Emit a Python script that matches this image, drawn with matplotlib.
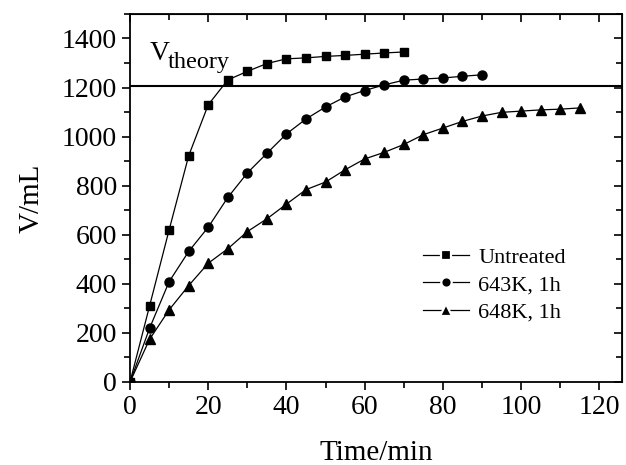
import matplotlib
matplotlib.use("Agg")
import matplotlib.pyplot as plt
from matplotlib.lines import Line2D
from matplotlib.ticker import MultipleLocator, NullFormatter

plt.rcParams['font.family'] = ['Liberation Serif', 'DejaVu Serif']

# Data
t_untreated = [0, 5, 10, 15, 20, 25, 30, 35, 40, 45, 50, 55, 60, 65, 70]
v_untreated = [0, 310, 620, 922, 1130, 1231, 1266, 1298, 1317, 1321, 1327, 1331, 1336, 1341, 1345]

t_643 = [0, 5, 10, 15, 20, 25, 30, 35, 40, 45, 50, 55, 60, 65, 70, 75, 80, 85, 90]
v_643 = [0, 219, 409, 532, 631, 752, 852, 932, 1011, 1072, 1121, 1162, 1188, 1211, 1230, 1235, 1239, 1246, 1252]

t_648 = [0, 5, 10, 15, 20, 25, 30, 35, 40, 45, 50, 55, 60, 65, 70, 75, 80, 85, 90, 95, 100, 105, 110, 115]
v_648 = [0, 174, 294, 393, 484, 543, 613, 665, 725, 784, 815, 865, 909, 936, 968, 1008, 1035, 1062, 1084, 1099, 1104, 1109, 1112, 1117]

labels = ['Untreated', '643K, 1h', '648K, 1h']
v_theory = 1207

fig = plt.figure(figsize=(6.26, 4.65), dpi=100)
ax = fig.add_axes([0.2077, 0.1785, 0.7859, 0.7915])

ax.plot(t_untreated, v_untreated, 'k-s', lw=0.9, ms=6)
ax.plot(t_643, v_643, 'k-o', lw=0.9, ms=6.5)
ax.plot(t_648, v_648, 'k-^', lw=0.9, ms=7.5)
ax.axhline(v_theory, color='black', lw=1.5)
ax.text(5.1, 1313, 'V', fontsize=20, va='baseline')
ax.text(9.6, 1280, 'theory', fontsize=17.5, va='baseline')

ax.set_xlim(0, 125.8)
ax.set_ylim(0, 1500)
ax.xaxis.set_major_locator(MultipleLocator(20))
ax.xaxis.set_minor_locator(MultipleLocator(10))
ax.yaxis.set_major_locator(MultipleLocator(200))
ax.yaxis.set_minor_locator(MultipleLocator(100))
ax.tick_params(which='both', direction='out', labelsize=20, width=1.2)
ax.tick_params(which='major', length=6)
ax.tick_params(which='minor', length=4)
for s in ax.spines.values():
    s.set_linewidth(1.3)

# inward ticks on top and right
axt = ax.secondary_xaxis('top')
axt.xaxis.set_major_locator(MultipleLocator(20))
axt.xaxis.set_minor_locator(MultipleLocator(10))
axt.xaxis.set_major_formatter(NullFormatter())
axt.tick_params(which='both', direction='in', width=1.2)
axt.tick_params(which='major', length=6)
axt.tick_params(which='minor', length=4)
axr = ax.secondary_yaxis('right')
axr.yaxis.set_major_locator(MultipleLocator(200))
axr.yaxis.set_minor_locator(MultipleLocator(100))
axr.yaxis.set_major_formatter(NullFormatter())
axr.tick_params(which='both', direction='in', width=1.2)
axr.tick_params(which='major', length=6)
axr.tick_params(which='minor', length=4)

ax.set_xlabel('Time/min', fontsize=21, labelpad=14)
ax.set_ylabel('V/mL', fontsize=21, labelpad=12)

handles = [Line2D([], [], color='k', lw=0.9, marker=m, ms=s, mfc='k', mec='white', mew=1.6)
           for m, s in [('s', 7), ('o', 7.5), ('^', 8)]]
ax.legend(handles, labels, loc='upper left', bbox_to_anchor=(0.554, 0.42), frameon=False, fontsize=16,
          handlelength=2.1, handletextpad=0.4, labelspacing=0.3)

fig.savefig('out.png', dpi=100)
